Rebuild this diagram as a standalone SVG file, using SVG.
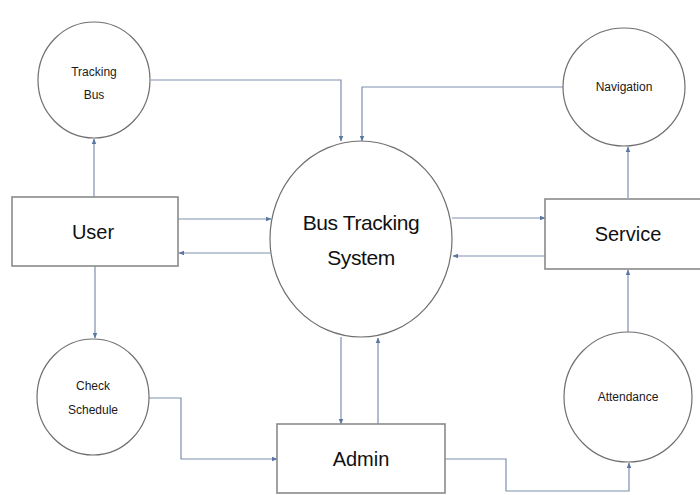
<svg xmlns="http://www.w3.org/2000/svg" width="700" height="495" viewBox="0 0 700 495">
<defs>
<marker id="arr" viewBox="0 0 10 10" refX="9" refY="5" markerWidth="6" markerHeight="6" orient="auto" markerUnits="userSpaceOnUse">
<path d="M0,1 L10,5 L0,9 z" fill="#5a76a3"/>
</marker>
<style>
.proc{fill:#fff;stroke:#6f6f6f;stroke-width:1.2}
.ent{fill:#fff;stroke:#8a8a8a;stroke-width:1.6}
.flow{fill:none;stroke:#7d8fae;stroke-width:1.2;marker-end:url(#arr)}
.sm{font-family:"Liberation Sans",Arial,sans-serif;font-size:12px;fill:#1a1a1a;text-anchor:middle}
.big{font-family:"Liberation Sans",Arial,sans-serif;font-size:21px;fill:#111;text-anchor:middle;letter-spacing:-0.4px}
.mid{font-family:"Liberation Sans",Arial,sans-serif;font-size:20px;fill:#111;text-anchor:middle}
</style>
</defs>
<rect width="700" height="495" fill="#fff"/>
<g id="connectors">
<path class="flow" d="M151,80 H341 V141"/>
<path class="flow" d="M563,87 H362 V141"/>
<path class="flow" d="M94,197 V139"/>
<path class="flow" d="M178,219 H271"/>
<path class="flow" d="M270,253 H179"/>
<path class="flow" d="M95,266 V338"/>
<path class="flow" d="M148,398 H181 V459 H277"/>
<path class="flow" d="M341,337 V424"/>
<path class="flow" d="M378,424 V338"/>
<path class="flow" d="M452,218 H545"/>
<path class="flow" d="M545,256 H453"/>
<path class="flow" d="M628,198 V147"/>
<path class="flow" d="M628,332 V270"/>
<path class="flow" d="M445,459 H506 V491 H629 V463"/>
</g>
<g id="tracking-bus">
<ellipse class="proc" cx="94" cy="80" rx="56" ry="58"/>
<text class="sm" x="94" y="76">Tracking</text>
<text class="sm" x="94" y="99">Bus</text>
</g>
<g id="navigation">
<ellipse class="proc" cx="624" cy="87" rx="61" ry="59"/>
<text class="sm" x="624" y="91">Navigation</text>
</g>
<g id="bus-tracking-system">
<ellipse class="proc" cx="361" cy="239" rx="91" ry="98"/>
<text class="big" x="361" y="230">Bus Tracking</text>
<text class="big" x="361" y="265">System</text>
</g>
<g id="user">
<rect class="ent" x="12" y="197" width="166" height="69"/>
<text class="mid" x="93" y="239">User</text>
</g>
<g id="service">
<rect class="ent" x="545" y="199" width="160" height="70"/>
<text class="mid" x="628" y="241">Service</text>
</g>
<g id="check-schedule">
<ellipse class="proc" cx="93" cy="397" rx="56" ry="58"/>
<text class="sm" x="93" y="390">Check</text>
<text class="sm" x="93" y="414">Schedule</text>
</g>
<g id="admin">
<rect class="ent" x="277" y="424" width="168" height="69"/>
<text class="mid" x="361" y="466">Admin</text>
</g>
<g id="attendance">
<ellipse class="proc" cx="628" cy="397" rx="64" ry="65"/>
<text class="sm" x="628" y="401">Attendance</text>
</g>
</svg>
